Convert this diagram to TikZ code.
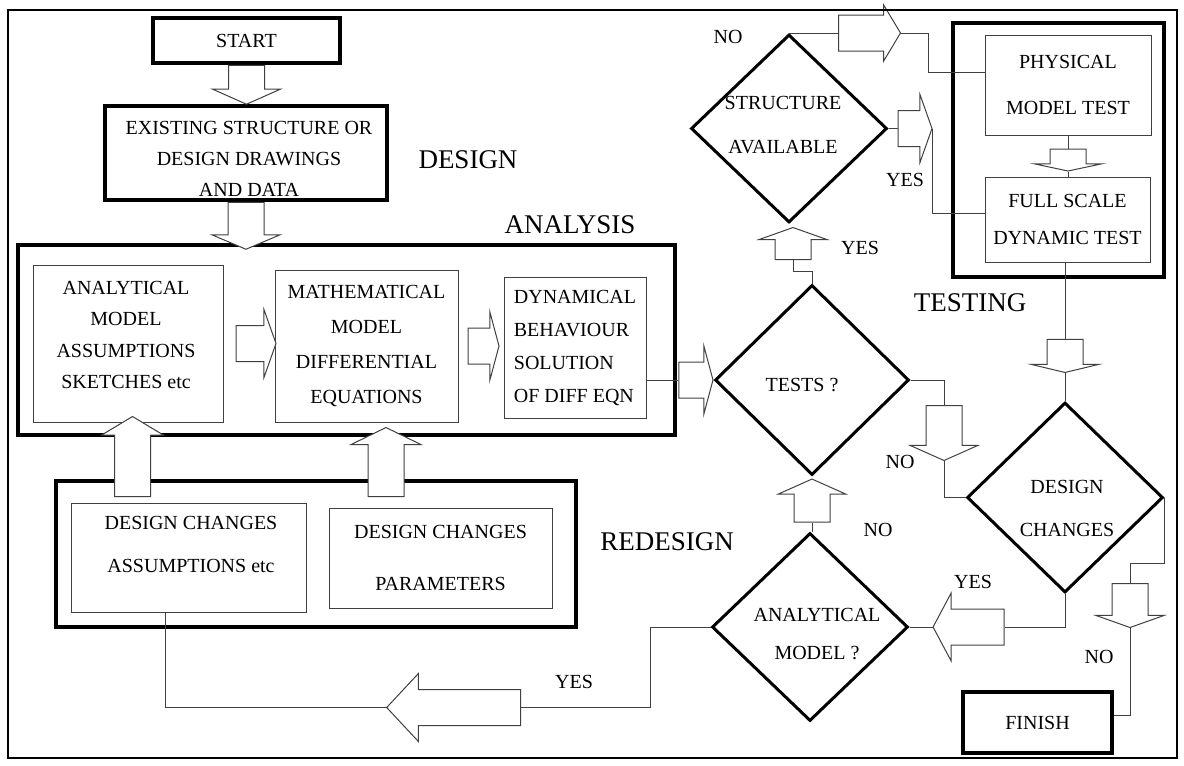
\documentclass[tikz,border=0pt]{standalone}
\usepackage{fontspec}
\setmainfont{Liberation Serif}
\usepackage{tikz}
\usetikzlibrary{shapes.geometric}
\usetikzlibrary{shapes.arrows}
\usetikzlibrary{positioning}

\newcommand{\chartfont}[1]{\fontsize{20}{#1}\selectfont}

\begin{document}
\begin{tikzpicture}
	[x=1pt,y=-1pt,
	every node/.style={align=center,font=\chartfont{32},inner sep=0pt},
	bigbox/.style={rectangle,draw,line width=3.5pt},
	box/.style={rectangle,draw=black!75,line width=1pt},
	decision/.style={diamond,draw,line width=3pt,minimum width=196pt,minimum height=188pt},
	hollow/.style={single arrow,draw=black!75,fill=white,line width=1pt,inner xsep=0pt,inner ysep=17.5pt,single arrow head extend=16pt},
	link/.style={draw=black!75,line width=1pt},
	stage/.style={font=\fontsize{27}{30}\selectfont}]
	\useasboundingbox (0,0) rectangle (1184,766);

	% design
	\node[bigbox,minimum width=187pt,minimum height=45pt] (start) at (246.5,40.5) {START};
	\node[bigbox,minimum width=282pt,minimum height=94pt] (exist) at (246,153) {};
	\node[font=\chartfont{31}] (exist-t) at (249,159) {EXISTING STRUCTURE OR\\DESIGN DRAWINGS\\AND DATA};
	\node[stage] (design) at (468,160) {DESIGN};

	% analysis
	\node[stage] (analysis) at (570,225) {ANALYSIS};
	\node[bigbox,minimum width=657pt,minimum height=190pt] (anabox) at (346.5,340) {};
	\node[box,minimum width=190pt,minimum height=157pt] (ana) at (128,343.5) {};
	\node[font=\chartfont{31.5}] (ana-t) at (126,335) {ANALYTICAL\\MODEL\\ASSUMPTIONS\\SKETCHES etc};
	\node[box,minimum width=183pt,minimum height=152pt,font=\chartfont{35}] (math) at (366.5,346) {MATHEMATICAL\\MODEL\\DIFFERENTIAL\\EQUATIONS};
	\node[box,minimum width=142pt,minimum height=141pt,font=\chartfont{33},align=left] (dyn) at (575,347.5) {DYNAMICAL\\BEHAVIOUR\\SOLUTION\\OF DIFF EQN};

	% redesign
	\node[bigbox,minimum width=520pt,minimum height=146pt] (redesign) at (316,554) {};
	\node[box,minimum width=235pt,minimum height=109pt] (dca) at (188.5,557.5) {};
	\node[font=\chartfont{43}] (dca-t) at (191,544.5) {DESIGN CHANGES\\ASSUMPTIONS etc};
	\node[box,minimum width=223pt,minimum height=100pt,font=\chartfont{52}] (dcp) at (440.5,558) {DESIGN CHANGES\\PARAMETERS};
	\node[stage] (redes) at (667,542) {REDESIGN};

	% testing
	\node[bigbox,minimum width=211pt,minimum height=254pt] (testbox) at (1058.5,150) {};
	\node[box,minimum width=166pt,minimum height=100pt,font=\chartfont{46}] (phys) at (1068,85) {PHYSICAL\\MODEL TEST};
	\node[box,minimum width=165pt,minimum height=85pt,font=\chartfont{37}] (full) at (1067.5,219.5) {FULL SCALE\\DYNAMIC TEST};
	\node[stage] (testing) at (970,303) {TESTING};
	\node[bigbox,minimum width=149pt,minimum height=61pt] (finish) at (1037.5,722.5) {FINISH};

	% decisions
	\node[decision] (struct) at (789,128.5) {};
	\node[font=\chartfont{44}] (struct-t) at (783,125) {STRUCTURE\\AVAILABLE};
	\node[decision,minimum width=194pt,minimum height=190pt] (tests) at (812,380) {};
	\node (tests-t) at (802,385) {TESTS ?};
	\node[decision] (anal) at (810,627) {};
	\node[font=\chartfont{38}] (anal-t) at (817,634) {ANALYTICAL\\MODEL ?};
	\node[decision,minimum height=190pt] (dc) at (1065,497.5) {};
	\node[font=\chartfont{43}] (dc-t) at (1067,508) {DESIGN\\CHANGES};

	\node (no1) at (728,37) {NO};
	\node (yes1) at (905,180) {YES};
	\node (yes2) at (860,248) {YES};
	\node (no2) at (900,462) {NO};
	\node (no3) at (878,530) {NO};
	\node (yes3) at (973,582) {YES};
	\node (no4) at (1099,657) {NO};
	\node (yes4) at (574,682) {YES};

	% block arrows
	\node[hollow,rotate=-90,minimum height=39pt,single arrow tip angle=132,anchor=tail] (a1) at (start.south) {};
	\node[hollow,rotate=-90,minimum height=47pt,single arrow tip angle=134,anchor=tail] (a2) at (exist.south) {};
	\node[hollow,minimum height=40pt,single arrow tip angle=141,right=12pt of ana,anchor=tail] (a3) {};
	\node[hollow,minimum height=31pt,single arrow tip angle=150,right=9pt of math,anchor=tail] (a4) {};
	\node[hollow,minimum height=34pt,single arrow tip angle=150,anchor=tip] (a5) at (tests.west) {};
	\node[hollow,rotate=90,minimum height=32pt,single arrow tip angle=141,anchor=tip] (a6) at ([shift={(4,3)}]struct.south) {};
	\node[hollow,minimum height=62pt,single arrow tip angle=118,single arrow head extend=10pt,anchor=tail] (a7) at ([xshift=49pt]struct.north) {};
	\node[hollow,minimum height=34pt,single arrow tip angle=141,right=9pt of struct,anchor=tail] (a8) {};
	\node[hollow,rotate=-90,minimum height=22pt,single arrow tip angle=156,anchor=tail] (a9) at ([yshift=-13pt]phys.south) {};
	\node[hollow,rotate=-90,minimum height=33pt,single arrow tip angle=153,anchor=tip] (a10) at ([yshift=28pt]dc.north) {};
	\node[hollow,rotate=-90,minimum height=55pt,single arrow tip angle=132,anchor=tail] (a11) at (944,405) {};
	\node[hollow,rotate=90,minimum height=43pt,single arrow tip angle=132,anchor=tip] (a12) at ([yshift=-2pt]tests.south) {};
	\node[hollow,rotate=180,minimum height=71pt,single arrow tip angle=124,anchor=tip] (a13) at ([xshift=23pt]anal.east) {};
	\node[hollow,rotate=-90,minimum height=44pt,single arrow tip angle=141,anchor=tail] (a14) at (1130,583) {};
	\node[hollow,rotate=180,minimum height=134pt,single arrow tip angle=94,anchor=tip] (a15) at (386,707.5) {};
	\node[hollow,rotate=90,minimum height=80pt,single arrow tip angle=118,single arrow head extend=13pt,anchor=tail] (a16) at (132.5,497) {};
	\node[hollow,rotate=90,minimum height=69pt,single arrow tip angle=128,single arrow head extend=17pt,anchor=tail] (a17) at (386,497) {};

	% connectors
	\draw[link] (dyn.east |- a5.tail) -- (a5.tail);
	\draw[link] (a6.tail) -- ++(0,11) -| (tests.north);
	\draw[link] (struct.north) -- (a7.tail);
	\draw[link] (a7.tip) -- ++(27,0) |- ([yshift=13pt]phys.west);
	\draw[link] (struct.east) -- (a8.tail);
	\draw[link] (a8.tip) |- ([yshift=6.5pt]full.west);
	\draw[link] (phys.south) -- (a9.tail);
	\draw[link] (a9.tip) -- (a9.tip |- full.north);
	\draw[link] (a10.tail) -- (a10.tail |- full.south);
	\draw[link] (a10.tip) -- (dc.north);
	\draw[link] (tests.east) -| (a11.tail);
	\draw[link] (a11.tip) |- (dc.west);
	\draw[link] (a12.tail) -- (a12.tail |- anal.north);
	\draw[link] (a13.tip) -- (anal.east);
	\draw[link] (a13.tail) -| (dc.south);
	\draw[link] (dc.east) -- ++(0,65.5) -| (a14.tail);
	\draw[link] (a14.tip) |- ([yshift=7.5pt]finish.east);
	\draw[link] (anal.west) -- ++(-60,0) |- (a15.tail);
	\draw[link] (a15.tip) -| ([xshift=-23.5pt]dca.south);

	\draw[line width=1.5pt] (8,10) rectangle (1177,758);
\end{tikzpicture}
\end{document}
